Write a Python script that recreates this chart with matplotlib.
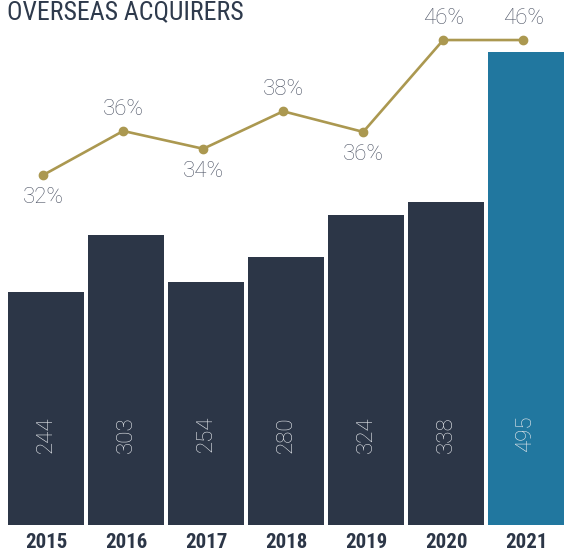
import numpy as np
import matplotlib
matplotlib.use('Agg')
import matplotlib.pyplot as plt

years = ['2015', '2016', '2017', '2018', '2019', '2020', '2021']
deals = [244, 303, 254, 280, 324, 338, 495]
share = [31.6, 36.3, 34.4, 38.4, 36.2, 46.0, 46.0]
share_lbl = ['32%', '36%', '34%', '38%', '36%', '46%', '46%']
lbl_above = [False, True, False, True, False, True, True]

DARK = '#2c3647'
BLUE = '#21779f'
GOLD = '#ab9850'
GREY_TXT = '#4f5667'
COND = ['Roboto Condensed', 'DejaVu Sans']
LIGHT = ['Roboto', 'DejaVu Sans']

W, H = 564, 555
fig = plt.figure(figsize=(W / 100, H / 100), dpi=100)
ax = fig.add_axes([8 / W, 30 / H, 556 / W, 525 / H])

x = np.arange(len(years))
cols = [DARK] * (len(years) - 1) + [BLUE]
ax.bar(x, deals, width=0.95, color=cols, edgecolor='none')
ax.set_xlim(-0.475, len(years) - 0.525)
ax.set_ylim(0, 549.4)

for xi, v in zip(x, deals):
    ax.text(xi, 95, str(v), rotation=90, ha='center', va='center',
            fontsize=16, color='#e6e9ed', family=LIGHT, fontweight='light')

ax.set_xticks(x)
ax.set_xticklabels(years, fontsize=15, color=DARK, fontweight='semibold',
                   family=COND)
ax.tick_params(axis='x', length=0, pad=6)
ax.set_yticks([])
for s in ax.spines.values():
    s.set_visible(False)

# share line on its own scale
ax2 = ax.twinx()
ax2.set_ylim(-5.73, 50.27)
ax2.plot(x - 0.035, share, color=GOLD, lw=1.9, marker='o', ms=6, zorder=5)
for xi, v, t, up in zip(x, share, share_lbl, lbl_above):
    ax2.annotate(t, (xi - 0.035, v), xytext=(0, 15.5 if up else -16),
                 textcoords='offset points', ha='center', va='center',
                 fontsize=16, color=GREY_TXT, family=LIGHT, fontweight='light')
ax2.set_yticks([])
for s in ax2.spines.values():
    s.set_visible(False)

fig.text(7 / W, 1 - 19 / H, 'OVERSEAS ACQUIRERS', ha='left', va='baseline',
         fontsize=18.5, color='#2e3a4c', family=COND)

fig.savefig('out.png', dpi=100, facecolor='white')
